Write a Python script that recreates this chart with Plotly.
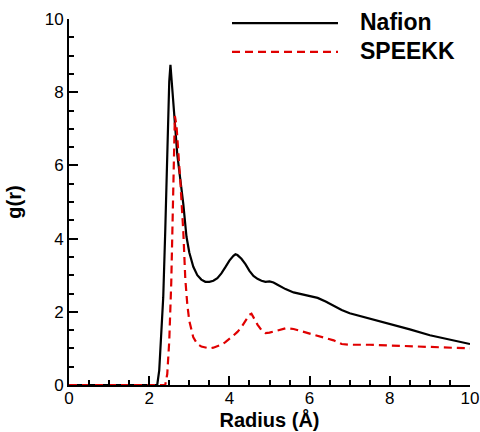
import plotly.graph_objects as go

nafion_r = [0, 2.2, 2.25, 2.3, 2.35, 2.4, 2.45, 2.5, 2.53, 2.6, 2.7, 2.8, 2.85, 2.93, 3.0, 3.1, 3.2, 3.3, 3.4,
            3.5, 3.6, 3.7, 3.8, 3.9, 4.0, 4.1, 4.15, 4.2, 4.3, 4.4, 4.5, 4.6, 4.7, 4.8, 4.9, 5.0,
            5.1, 5.2, 5.4, 5.6, 5.8, 6.0, 6.2, 6.4, 6.6, 6.8, 7.0, 7.5, 8.0, 8.5, 9.0, 9.5, 10.0]
nafion_g = [0, 0, 0.4, 1.3, 2.4, 4.2, 6.5, 8.3, 8.75, 7.7, 6.3, 5.4, 4.95, 4.05, 3.62, 3.23, 3.0, 2.88, 2.82,
            2.82, 2.85, 2.92, 3.05, 3.22, 3.4, 3.53, 3.57, 3.55, 3.45, 3.3, 3.12, 2.98, 2.9, 2.85, 2.82, 2.83,
            2.8, 2.74, 2.62, 2.53, 2.48, 2.45, 2.38, 2.28, 2.16, 2.05, 1.96, 1.82, 1.68, 1.52, 1.36, 1.24, 1.12]

speekk_r = [0, 2.4, 2.45, 2.5, 2.55, 2.6, 2.64, 2.68, 2.72, 2.78, 2.85, 2.9, 2.95, 3.0, 3.1, 3.2, 3.3,
            3.4, 3.5, 3.6, 3.7, 3.8, 3.9, 4.0, 4.1, 4.2, 4.3, 4.4, 4.5, 4.55, 4.6, 4.7, 4.8, 4.9, 5.0,
            5.2, 5.4, 5.6, 5.8, 6.0, 6.2, 6.4, 6.6, 6.8, 7.0, 7.5, 8.0, 8.5, 9.0, 9.5, 10.0]
speekk_g = [0, 0, 0.3, 1.2, 2.8, 5.0, 7.35, 7.1, 6.5, 5.5, 4.2, 2.9, 2.2, 1.75, 1.3, 1.12, 1.05,
            1.02, 1.0, 1.02, 1.05, 1.1, 1.17, 1.25, 1.35, 1.45, 1.58, 1.75, 1.92, 1.95, 1.85, 1.65, 1.5, 1.42, 1.43,
            1.5, 1.55, 1.53, 1.47, 1.4, 1.35, 1.3, 1.22, 1.12, 1.1, 1.1, 1.08, 1.07, 1.06, 1.04, 1.0]

series_names = ["Nafion", "SPEEKK"]
series_colors = ["black", "#e00000"]
series_dash = ["solid", "8px,5px"]

FONT = "Arial, Liberation Sans, sans-serif"

fig = go.Figure()
fig.add_trace(go.Scatter(x=nafion_r, y=nafion_g, mode="lines", name=series_names[0],
                         line=dict(color=series_colors[0], width=2.2, dash=series_dash[0])))
fig.add_trace(go.Scatter(x=speekk_r, y=speekk_g, mode="lines", name=series_names[1],
                         line=dict(color=series_colors[1], width=2.2, dash=series_dash[1])))

axis_common = dict(
    range=[0, 10], showgrid=False, zeroline=False, showline=True, linecolor="black", linewidth=2,
    ticks="inside", ticklen=9, tickwidth=2, tickcolor="black", dtick=2, tick0=0,
    ticklabeloverflow="allow",
    tickfont=dict(family=FONT, size=17, color="black"),
    minor=dict(ticks="inside", ticklen=5, tickwidth=1.5, tickcolor="black", dtick=0.5, tick0=0,
               showgrid=False),
)
fig.update_xaxes(**axis_common, ticklabelstandoff=-3,
                 title=dict(text="Radius (Å)", standoff=0,
                            font=dict(family=FONT, size=20, color="black", weight="bold")))
fig.update_yaxes(**axis_common,
                 title=dict(text="g(r)", standoff=18,
                            font=dict(family=FONT, size=20, color="black", weight="bold")))

# manual legend (line samples + labels) in paper coordinates
legend_line_y = [0.989, 0.910]
legend_text_y = [0.992, 0.913]
shapes = []
annotations = []
for i in range(2):
    shapes.append(dict(type="line", xref="paper", yref="paper", x0=0.4065, x1=0.6708,
                       y0=legend_line_y[i], y1=legend_line_y[i],
                       line=dict(color=series_colors[i], width=2.2, dash=series_dash[i])))
    annotations.append(dict(xref="paper", yref="paper", x=0.7207, y=legend_text_y[i],
                            xanchor="left", yanchor="middle", showarrow=False,
                            text=series_names[i],
                            font=dict(family=FONT, size=23, color="black", weight="bold")))

fig.update_layout(
    width=480, height=432,
    margin=dict(l=69, r=10, t=19, b=47, autoexpand=False),
    plot_bgcolor="white", paper_bgcolor="white",
    showlegend=False,
    hovermode=False,
    shapes=shapes,
    annotations=annotations,
)

# remove the default 8px page margin so the 480x432 figure fills the window exactly
fig.write_html("out.html",
               config={"displayModeBar": False},
               post_script="document.body.style.margin='0';document.body.style.overflow='hidden';")
